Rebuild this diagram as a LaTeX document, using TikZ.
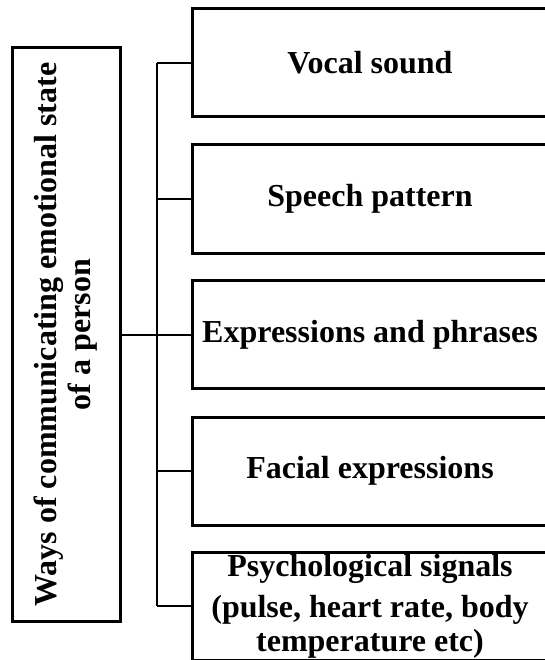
\documentclass[tikz,border=0pt]{standalone}
\usepackage{fontspec}
\setmainfont{Liberation Serif}
\usepackage{tikz}
\usetikzlibrary{positioning}

\begin{document}
\begin{tikzpicture}[
  x=1pt, y=-1pt,
  font=\fontsize{32}{34}\selectfont\bfseries,
  root/.style={draw, line width=3pt, rotate=90, minimum width=573pt,
               minimum height=108pt, align=center, inner sep=0pt},
  way/.style={draw, line width=3pt, minimum width=356pt,
              minimum height=108pt, align=center, inner sep=0pt},
  link/.style={line width=2pt}
]
\useasboundingbox (0,0) rectangle (544,660);
% the whole topic
\node[root] (r) at (66,334.5) {Ways of communicating emotional state\\of a person};
% the ways
\node[way] (w1) at (370,63) {Vocal sound};
\node[way] (w2) at (370,199) {Speech pattern};
\node[way] (w3) at (370,334.5) {Expressions and phrases};
\node[way] (w4) at (370,471) {Facial expressions};
\node[way] (w5) at (370,606) {Psychological signals\\[7pt]
      (pulse, heart rate, body\\temperature etc)};
% the bus between them
\coordinate (bus) at (157,0);
\draw[link] (r.south) -- (r.south -| bus);
\draw[link] (bus |- w1.west) -- (bus |- w5.west);
\draw[link] (bus |- w1.west) -- (w1.west);
\draw[link] (bus |- w2.west) -- (w2.west);
\draw[link] (bus |- w3.west) -- (w3.west);
\draw[link] (bus |- w4.west) -- (w4.west);
\draw[link] (bus |- w5.west) -- (w5.west);
\end{tikzpicture}
\end{document}
